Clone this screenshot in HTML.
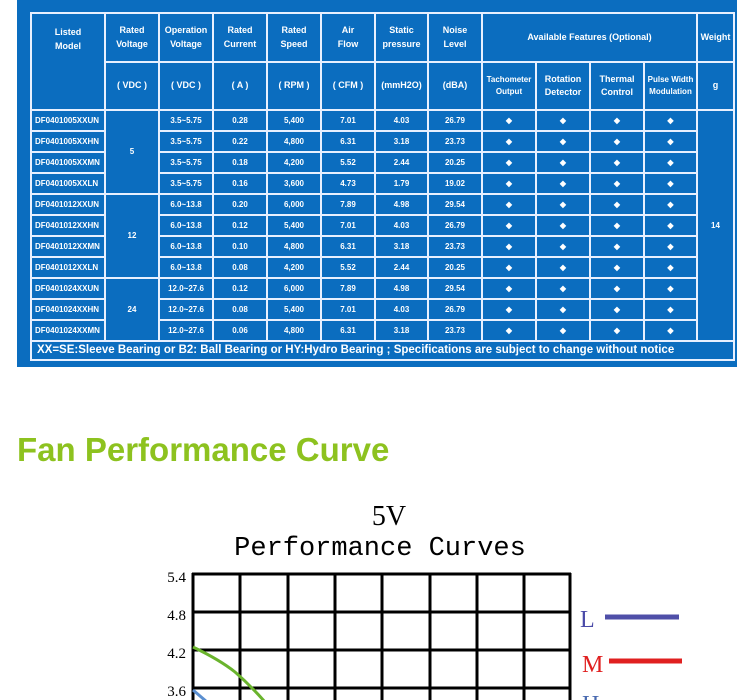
<!DOCTYPE html>
<html><head><meta charset="utf-8"><style>
html,body{margin:0;width:750px;height:700px;overflow:hidden}
body{background:#fff;position:relative;font-family:"Liberation Sans",sans-serif}
.bg{position:absolute;left:17px;top:0;width:720px;height:367px;background:#0b6dbf}
table{position:absolute;left:30px;top:12px;border-collapse:collapse;table-layout:fixed;color:#fff;font-weight:bold}
td{border:2px solid #e8f0ff;text-align:center;font-size:9px;padding:0;line-height:1.5;overflow:hidden;white-space:nowrap}
tr.d td{height:19px;font-size:8px}
td.m{text-align:left;padding-left:3px;font-size:8px}
.ft{font-size:11.5px;text-align:left;padding-left:5px}
.h{position:absolute;left:17px;top:431px;font-size:33px;color:#8dc21f;font-family:"Liberation Sans",sans-serif;font-weight:bold}
</style></head><body>
<div class="bg"></div>
<table>
<colgroup><col style="width:74px"><col style="width:54px"><col style="width:54px"><col style="width:54px"><col style="width:54px"><col style="width:54px"><col style="width:53px"><col style="width:54px"><col style="width:54px"><col style="width:54px"><col style="width:54px"><col style="width:53px"><col style="width:37px"></colgroup>
<tr style="height:49px"><td rowspan="2" style="vertical-align:top;padding-top:12px">Listed<br>Model</td><td>Rated<br>Voltage</td><td>Operation<br>Voltage</td><td>Rated<br>Current</td><td>Rated<br>Speed</td><td>Air<br>Flow</td><td>Static<br>pressure</td><td>Noise<br>Level</td><td colspan="4">Available Features (Optional)</td><td>Weight</td></tr>
<tr style="height:48px"><td>( VDC )</td><td>( VDC )</td><td>( A )</td><td>( RPM )</td><td>( CFM )</td><td>(mmH2O)</td><td>(dBA)</td><td style="font-size:8px">Tachometer<br>Output</td><td>Rotation<br>Detector</td><td>Thermal<br>Control</td><td style="font-size:8px">Pulse Width<br>Modulation</td><td>g</td></tr>
<tr class="d"><td class="m">DF0401005XXUN</td><td rowspan="4">5</td><td>3.5~5.75</td><td>0.28</td><td>5,400</td><td>7.01</td><td>4.03</td><td>26.79</td><td>◆</td><td>◆</td><td>◆</td><td>◆</td><td rowspan="11">14</td></tr>
<tr class="d"><td class="m">DF0401005XXHN</td><td>3.5~5.75</td><td>0.22</td><td>4,800</td><td>6.31</td><td>3.18</td><td>23.73</td><td>◆</td><td>◆</td><td>◆</td><td>◆</td></tr>
<tr class="d"><td class="m">DF0401005XXMN</td><td>3.5~5.75</td><td>0.18</td><td>4,200</td><td>5.52</td><td>2.44</td><td>20.25</td><td>◆</td><td>◆</td><td>◆</td><td>◆</td></tr>
<tr class="d"><td class="m">DF0401005XXLN</td><td>3.5~5.75</td><td>0.16</td><td>3,600</td><td>4.73</td><td>1.79</td><td>19.02</td><td>◆</td><td>◆</td><td>◆</td><td>◆</td></tr>
<tr class="d"><td class="m">DF0401012XXUN</td><td rowspan="4">12</td><td>6.0~13.8</td><td>0.20</td><td>6,000</td><td>7.89</td><td>4.98</td><td>29.54</td><td>◆</td><td>◆</td><td>◆</td><td>◆</td></tr>
<tr class="d"><td class="m">DF0401012XXHN</td><td>6.0~13.8</td><td>0.12</td><td>5,400</td><td>7.01</td><td>4.03</td><td>26.79</td><td>◆</td><td>◆</td><td>◆</td><td>◆</td></tr>
<tr class="d"><td class="m">DF0401012XXMN</td><td>6.0~13.8</td><td>0.10</td><td>4,800</td><td>6.31</td><td>3.18</td><td>23.73</td><td>◆</td><td>◆</td><td>◆</td><td>◆</td></tr>
<tr class="d"><td class="m">DF0401012XXLN</td><td>6.0~13.8</td><td>0.08</td><td>4,200</td><td>5.52</td><td>2.44</td><td>20.25</td><td>◆</td><td>◆</td><td>◆</td><td>◆</td></tr>
<tr class="d"><td class="m">DF0401024XXUN</td><td rowspan="3">24</td><td>12.0~27.6</td><td>0.12</td><td>6,000</td><td>7.89</td><td>4.98</td><td>29.54</td><td>◆</td><td>◆</td><td>◆</td><td>◆</td></tr>
<tr class="d"><td class="m">DF0401024XXHN</td><td>12.0~27.6</td><td>0.08</td><td>5,400</td><td>7.01</td><td>4.03</td><td>26.79</td><td>◆</td><td>◆</td><td>◆</td><td>◆</td></tr>
<tr class="d"><td class="m">DF0401024XXMN</td><td>12.0~27.6</td><td>0.06</td><td>4,800</td><td>6.31</td><td>3.18</td><td>23.73</td><td>◆</td><td>◆</td><td>◆</td><td>◆</td></tr>
<tr style="height:15px"><td colspan="13" class="ft">XX=SE:Sleeve Bearing or B2: Ball Bearing or HY:Hydro Bearing ; Specifications are subject to change without notice</td></tr>
</table>
<div class="h">Fan Performance Curve</div>
<svg style="position:absolute;left:0;top:490px" width="750" height="210">
<g font-family="Liberation Mono, DejaVu Sans Mono, monospace" text-anchor="middle" fill="#000">
<text x="389" y="35" font-size="28" font-family="Liberation Serif,serif">5V</text>
<text x="380" y="65" font-size="27">Performance Curves</text>
</g>
<g font-family="Liberation Serif,serif" font-size="15" text-anchor="end">
<text x="186" y="92">5.4</text><text x="186" y="130">4.8</text><text x="186" y="168">4.2</text><text x="186" y="206">3.6</text>
</g>
<text transform="translate(124,685) rotate(-90)" font-family="Liberation Serif,serif" font-size="22">(mmh₂O)</text>
<g stroke="#000" stroke-width="3">
<line x1="192" y1="84" x2="571" y2="84"/><line x1="192" y1="122" x2="571" y2="122"/><line x1="192" y1="160" x2="571" y2="160"/><line x1="192" y1="198" x2="571" y2="198"/>
<line x1="193" y1="83" x2="193" y2="210"/><line x1="240" y1="83" x2="240" y2="210"/><line x1="288" y1="83" x2="288" y2="210"/><line x1="335" y1="83" x2="335" y2="210"/><line x1="382" y1="83" x2="382" y2="210"/><line x1="430" y1="83" x2="430" y2="210"/><line x1="477" y1="83" x2="477" y2="210"/><line x1="524" y1="83" x2="524" y2="210"/><line x1="570" y1="83" x2="570" y2="210"/>
</g>
<path d="M193 157 Q220 170 235 182 Q250 195 265 212" stroke="#6ab42d" stroke-width="3" fill="none"/>
<path d="M193 200 L207 212" stroke="#5b8fd0" stroke-width="3" fill="none"/>
<g font-family="Liberation Serif,serif" font-size="24">
<text x="580" y="137" fill="#4a4aa8">L</text>
<text x="582" y="182" fill="#e02020">M</text>
<text x="582" y="222" fill="#4a6ab0">H</text>
</g>
<line x1="605" y1="127" x2="679" y2="127" stroke="#4f4fa8" stroke-width="5"/>
<line x1="609" y1="171" x2="682" y2="171" stroke="#e02020" stroke-width="5"/>
</svg>
</body></html>
